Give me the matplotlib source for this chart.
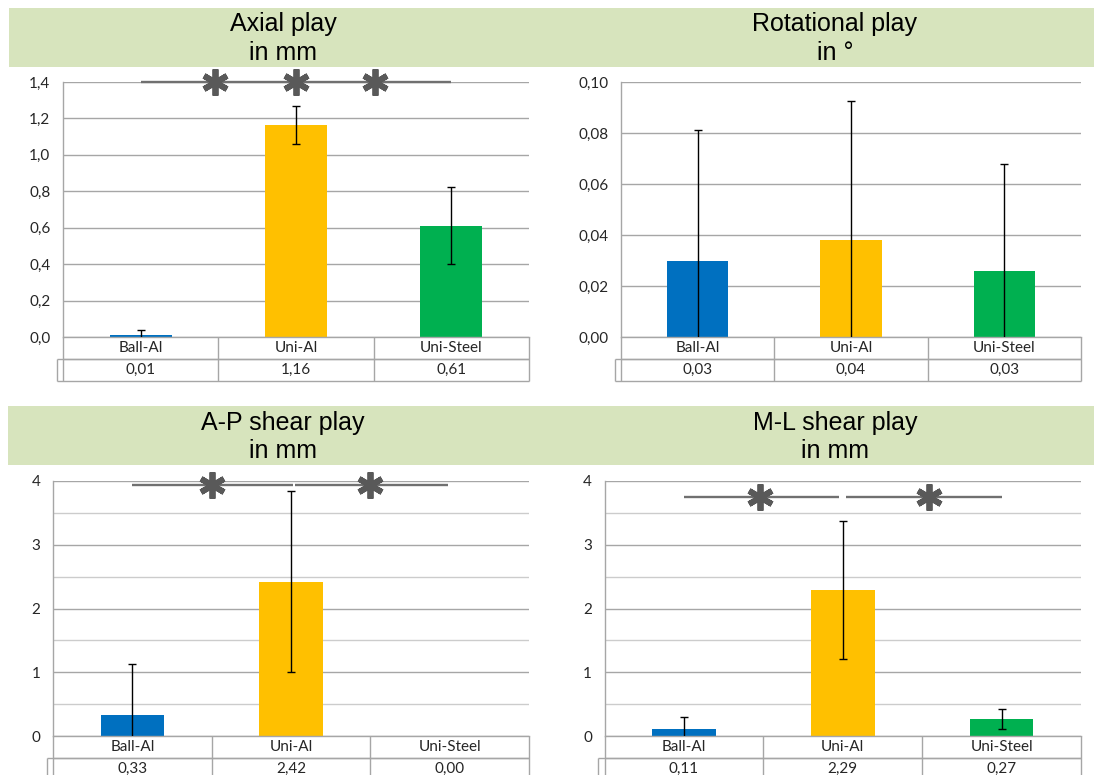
import matplotlib
matplotlib.use("Agg")
import matplotlib.pyplot as plt
from matplotlib.patches import Rectangle
import numpy as np

# ---- data -------------------------------------------------------------
categories = ["Ball-Al", "Uni-Al", "Uni-Steel"]
bar_colors = ["#0070C0", "#FFC000", "#00B050"]

axial_mean = [0.011, 1.162, 0.612]
axial_sd = [0.026, 0.104, 0.213]

rot_mean = [0.030, 0.038, 0.026]
rot_sd = [0.051, 0.0545, 0.042]

ap_mean = [0.33, 2.42, 0.00]
ap_sd = [0.80, 1.42, 0.00]

ml_mean = [0.11, 2.29, 0.27]
ml_sd = [0.19, 1.08, 0.16]

titles = ["Axial play\nin mm", "Rotational play\nin °",
          "A-P shear play\nin mm", "M-L shear play\nin mm"]

# ---- layout -----------------------------------------------------------
W, H = 1094, 775
fig = plt.figure(figsize=(W / 100, H / 100), dpi=100)
fig.patch.set_facecolor("white")

BANNER = "#D7E4BD"
GRID = "#A6A6A6"
GRID_MINOR = "#CCCCCC"
TEXT = "#262626"
SIG_LINE = "#707070"
SIG_STAR = "#595959"
SMALL_FONT = ["Lato", "DejaVu Sans"]
TITLE_FONT = ["Liberation Sans", "DejaVu Sans"]


def px_rect(l, t, r, b):
    return [l / W, 1 - b / H, (r - l) / W, (b - t) / H]


# banners behind the titles
for (l, t, r, b) in [(9, 8, W, 67), (8, 406, W, 465)]:
    fig.patches.append(Rectangle((l / W, 1 - b / H), (r - l) / W, (b - t) / H,
                                 transform=fig.transFigure, facecolor=BANNER,
                                 edgecolor="none", zorder=0))

panels = [
    dict(rect=(63, 82, 529, 337), mean=axial_mean, sd=axial_sd, top=1.4,
         step=0.2, minor=None, dec=1, title_x=283, title_y=(31.5, 60.5),
         sig_y=1.4, segments=[(0.0, 2.0)], stars=[0.48, 1.0, 1.51]),
    dict(rect=(621, 82, 1081, 337), mean=rot_mean, sd=rot_sd, top=0.10,
         step=0.02, minor=None, dec=2, title_x=835, title_y=(31.5, 60.5),
         sig_y=None, segments=[], stars=[]),
    dict(rect=(53, 481, 529, 736), mean=ap_mean, sd=ap_sd, top=4.0,
         step=1.0, minor=0.5, dec=0, title_x=283, title_y=(430, 458.5),
         sig_y=3.93, segments=[(0.0, 1.01), (1.025, 1.99)], stars=[0.5, 1.5]),
    dict(rect=(604.5, 481, 1081, 736), mean=ml_mean, sd=ml_sd, top=4.0,
         step=1.0, minor=0.5, dec=0, title_x=835, title_y=(430, 458.5),
         sig_y=3.75, segments=[(0.0, 0.975), (1.023, 2.0)], stars=[0.48, 1.54]),
]

ROW_PX = 22.0
KEY_PX = 6.5

for spec, title in zip(panels, titles):
    l, t, r, b = spec["rect"]
    ax = fig.add_axes(px_rect(l, t, r, b))
    ax_w, ax_h = r - l, b - t
    x = np.arange(len(categories))

    ax.bar(x, spec["mean"], width=0.4, color=bar_colors, zorder=2)

    sd = np.array(spec["sd"])
    m = np.array(spec["mean"])
    keep = sd > 0
    ax.errorbar(x[keep], m[keep], yerr=sd[keep], fmt="none", ecolor="black",
                elinewidth=1.0, capsize=2.6, capthick=1.0, zorder=3)

    ax.set_xlim(-0.5, len(categories) - 0.5)
    ax.set_ylim(0, spec["top"])
    ticks = np.arange(0, spec["top"] + spec["step"] / 2, spec["step"])
    ax.set_yticks(ticks)
    ax.set_yticklabels([f"{v:.{spec['dec']}f}".replace(".", ",") for v in ticks],
                       family=SMALL_FONT, fontsize=11, color=TEXT)
    if spec["minor"]:
        ax.set_yticks(np.arange(0, spec["top"], spec["minor"]), minor=True)
        ax.yaxis.grid(True, which="minor", color=GRID_MINOR, lw=1.0)
    ax.yaxis.grid(True, which="major", color=GRID, lw=1.0)
    ax.set_axisbelow(True)
    ax.tick_params(axis="y", which="both", length=0, pad=9.0)
    ax.set_xticks([])
    for side in ("top", "right"):
        ax.spines[side].set_visible(False)
    for side in ("left", "bottom"):
        ax.spines[side].set_color(GRID)
        ax.spines[side].set_linewidth(1.0)

    # data table under the axis
    ry = ROW_PX / ax_h
    kx = KEY_PX / ax_w
    tk = dict(transform=ax.transAxes, color=GRID, lw=1.0, clip_on=False,
              solid_capstyle="butt")
    ax.plot([0, 1], [-ry, -ry], **tk)
    ax.plot([-kx, 1], [-ry, -ry], **tk)
    ax.plot([-kx, 1], [-2 * ry, -2 * ry], **tk)
    ax.plot([0, 0], [0, -2 * ry], **tk)
    ax.plot([-kx, -kx], [-ry, -2 * ry], **tk)
    n = len(categories)
    for i in range(1, n + 1):
        ax.plot([i / n, i / n], [0, -2 * ry], **tk)
    for i, (cat, val) in enumerate(zip(categories, spec["mean"])):
        cx = (i + 0.5) / n
        ax.text(cx, -0.5 * ry, cat, transform=ax.transAxes, ha="center",
                va="center", fontsize=11, family=SMALL_FONT, color=TEXT)
        ax.text(cx, -1.5 * ry, f"{val:.2f}".replace(".", ","),
                transform=ax.transAxes, ha="center", va="center",
                fontsize=11, family=SMALL_FONT, color=TEXT)

    # significance brackets
    for x0, x1 in spec["segments"]:
        ax.plot([x0, x1], [spec["sig_y"]] * 2, color=SIG_LINE, lw=1.7,
                clip_on=False, zorder=4, solid_capstyle="butt")
    for sx in spec["stars"]:
        ax.plot([sx], [spec["sig_y"]], marker=(6, 2, 0), markersize=19,
                markeredgewidth=4.2, color=SIG_STAR, clip_on=False, zorder=5,
                linestyle="none")

    # title in the banner
    for line, yb in zip(title.split("\n"), spec["title_y"]):
        fig.text(spec["title_x"] / W, 1 - yb / H, line, ha="center",
                 va="baseline", fontsize=18, family=TITLE_FONT, color="black")

fig.savefig("out.png", dpi=100, facecolor="white")
